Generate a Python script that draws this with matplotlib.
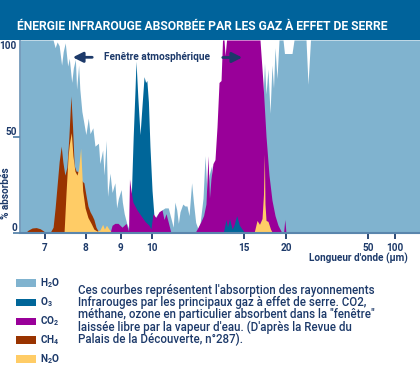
import numpy as np
import matplotlib
matplotlib.use('Agg')
import matplotlib.pyplot as plt
from matplotlib.patches import Rectangle
import matplotlib.transforms as mtransforms

# ---------------- data (wavelength in µm, absorption in %) ----------------
h2o_wl = [6.38, 7.20, 7.25, 7.30, 7.35, 7.41, 7.45, 7.50, 7.56, 7.60, 7.66, 7.70, 7.75,
          7.78, 7.83, 7.86, 7.91, 7.96, 8.01, 8.08, 8.13, 8.21, 8.27, 8.37, 8.41, 8.49,
          8.53, 8.59, 8.63, 8.70, 8.76, 8.84, 8.89, 8.94, 9.02, 9.06, 9.12, 9.20, 9.25,
          9.34, 9.56, 9.79, 10.03, 10.19, 10.35, 10.57, 10.73, 10.91, 11.10, 11.18, 11.27,
          11.37, 11.46, 11.55, 11.70, 11.82, 11.93, 12.04, 12.18, 12.28, 12.40, 12.53,
          12.64, 12.80, 12.91, 13.02, 13.13, 13.27, 13.34, 13.45, 13.61, 16.71, 16.94,
          17.29, 17.47, 17.65, 17.88, 18.12, 18.35, 18.53, 18.71, 18.94, 19.18, 19.65,
          19.82, 22.20, 22.93, 27.32, 28.05, 28.96, 200]
h2o_abs = [100, 100, 96, 99, 97, 87, 94, 98.5, 86.5, 90.5, 78, 85.5, 90,
           74.5, 87, 74.5, 63, 57, 51, 59.5, 51.5, 54.5, 45, 46.5, 36, 43,
           30, 48, 19, 31, 21, 26, 13, 18, 22.5, 16, 10, 5, 3,
           2, 2, 3, 4, 8, 10, 12, 13, 13, 6, 3, 16,
           12, 5, 11, 15, 14, 14, 9, 26, 16, 5.5, 2,
           5, 18, 40, 20, 30, 35, 20, 28, 30, 30, 60,
           70, 88, 72, 85, 62, 87, 75, 96, 80, 100, 100,
           93, 93, 100, 100, 77, 100, 100]

o3_wl = [9.31, 9.36, 9.41, 9.47, 9.50, 9.56, 9.63, 9.69, 9.76, 9.81, 9.85, 9.90, 9.95,
         10.03, 10.14, 10.30, 13.90, 14.05, 14.13, 14.24, 14.38, 14.48, 14.63, 14.78,
         14.92, 15.18]
o3_abs = [0, 25, 50, 75, 89, 70, 51, 65, 81, 78, 79, 68, 45,
          22, 8, 0, 0, 7, 3, 7.5, 2, 4, 9, 4,
          2, 0]

co2_wl = [8.70, 8.76, 8.84, 8.93, 9.05, 9.18, 9.26, 9.29, 9.34, 9.40, 9.53, 9.66, 9.79,
          9.92, 9.98, 10.08, 10.24, 10.41, 10.57, 10.68, 10.79, 10.90, 11.06, 12.36,
          12.53, 12.69, 12.83, 12.96, 13.07, 13.15, 13.23, 13.34, 13.45, 13.56, 13.67,
          13.78, 13.86, 13.94, 14.00, 14.08, 16.94, 17.29, 17.65, 18.00, 18.35, 18.71,
          19.06, 19.53, 19.71, 19.86, 20.00]
co2_abs = [0, 4, 5, 5, 3, 5, 1, 28, 22, 16, 12, 9, 6,
           4, 2, 10, 8, 11, 12, 7, 10, 6, 0, 0,
           3, 6, 9, 15, 40, 18, 28, 36, 38, 55, 78,
           79, 100, 100, 92, 100, 100, 78, 50, 30, 17, 9,
           4, 0, 0, 7, 0]

ch4_wl = [6.50, 6.58, 6.68, 6.78, 6.88, 6.98, 7.02, 7.12, 7.20, 7.25, 7.30, 7.35, 7.40,
          7.44, 7.49, 7.54, 7.59, 7.64, 7.68, 7.72, 7.77, 7.81, 7.86, 7.91, 7.96, 8.01,
          8.07, 8.13, 8.19, 8.24, 8.30, 8.39]
ch4_abs = [0, 1.5, 2.6, 2.8, 2.2, 0.8, 0, 0, 3, 13, 25, 37, 45,
           37, 30, 34, 50, 71, 55, 35, 32, 32, 29, 27, 26, 20,
           14, 11, 9, 7, 3, 0]

n2o_wl = [7.47, 7.52, 7.57, 7.60, 7.65, 7.69, 7.74, 7.79, 7.83, 7.88, 7.93, 7.99, 8.07,
          8.16, 8.24, 8.33, 8.41, 8.49, 8.54, 8.60, 8.67, 8.76,
          16.24, 16.59, 16.88, 17.18, 17.35, 17.45, 17.53, 17.65, 17.88, 18.18, 18.41]
n2o_abs = [0, 21, 40, 46, 52, 40, 32, 30, 33, 44, 22, 13, 8,
           5, 2, 1, 1.5, 4.5, 2, 4, 2, 0,
           0, 6.5, 4.5, 7.5, 20, 41, 15, 6.5, 6, 2, 0]

tick_wl = [7, 8, 9, 10, 15, 20, 50, 100]
tick_labels = ['7', '8', '9', '10', '15', '20', '50', '100']
gas_labels = [r'H$_2$O', r'O$_3$', r'CO$_2$', r'CH$_4$', r'N$_2$O']

title = "ÉNERGIE INFRAROUGE ABSORBÉE PAR LES GAZ À EFFET DE SERRE"
note_lines = ["Ces courbes représentent l'absorption des rayonnements",
              "Infrarouges par les principaux gaz à effet de serre. CO2,",
              "méthane, ozone en particulier absorbent dans la \"fenêtre\"",
              "laissée libre par la vapeur d'eau. (D'après la Revue du",
              "Palais de la Découverte, n°287)."]

# ---------------- style ----------------
C_H2O = '#80b3cf'
C_O3 = '#006699'
C_CO2 = '#990099'
C_CH4 = '#993300'
C_N2O = '#ffcc66'
BAND = '#00639b'
NAVY = '#1d3a6a'
AXC = '#5a86ad'
gas_colors = [C_H2O, C_O3, C_CO2, C_CH4, C_N2O]

plt.rcParams['font.family'] = ['Roboto', 'DejaVu Sans']
plt.rcParams['mathtext.fontset'] = 'custom'
plt.rcParams['mathtext.rm'] = 'Roboto:bold'
plt.rcParams['mathtext.it'] = 'Roboto:bold'
plt.rcParams['mathtext.bf'] = 'Roboto:bold'

W, H = 420, 380
fig = plt.figure(figsize=(W / 100, H / 100), dpi=100)
fig.patch.set_facecolor('white')

# title band
fig.patches.append(Rectangle((0, 1 - 40 / H), 1, 40 / H, transform=fig.transFigure,
                             facecolor=BAND, edgecolor='none', zorder=0))
fig.text(17 / W, 1 - 27 / H, title, color='white', fontsize=8.7, fontweight='bold',
         ha='left', va='center')

ax = fig.add_axes([20 / W, 147 / H, 400 / W, 193 / H])

# wavelength axis: piecewise scale as drawn in the original figure
scale_wl = [6, 7, 8, 9, 10, 15, 20, 50, 100, 200]
scale_pos = [5, 45, 85.5, 120.5, 151.5, 243.5, 286, 368, 395, 420]


def fwd(x):
    return np.interp(x, scale_wl, scale_pos)


def inv(p):
    return np.interp(p, scale_pos, scale_wl)


ax.set_xscale('function', functions=(fwd, inv))
ax.set_xlim(inv(20), 200)
ax.set_ylim(0, 100)

ax.fill_between(h2o_wl, h2o_abs, color=C_H2O, lw=0, zorder=1)
ax.fill_between(o3_wl, o3_abs, color=C_O3, lw=0, zorder=2)
ax.fill_between(co2_wl, co2_abs, color=C_CO2, lw=0, zorder=3)
ax.fill_between(ch4_wl, ch4_abs, color=C_CH4, lw=0, zorder=4)
ax.fill_between(n2o_wl, n2o_abs, color=C_N2O, lw=0, zorder=5)
o3x = np.array(o3_wl)
ax.fill_between(o3_wl, o3_abs, where=o3x > 12, color=C_O3, lw=0, zorder=6)

for s in ['top', 'right']:
    ax.spines[s].set_visible(False)
ax.spines['left'].set_color(AXC)
ax.spines['left'].set_linewidth(1.1)
ax.spines['bottom'].set_color(AXC)
ax.spines['bottom'].set_linewidth(1.5)
ax.spines['left'].set_zorder(10)
ax.spines['bottom'].set_zorder(10)

ax.set_xticks(tick_wl)
ax.set_xticklabels(tick_labels)
ax.xaxis.set_minor_locator(matplotlib.ticker.NullLocator())
ax.tick_params(axis='x', length=4.5, width=1.3, color=NAVY, pad=2.5,
               labelsize=7.2, labelcolor=NAVY)
for lab in ax.get_xticklabels():
    lab.set_fontweight('bold')
for t, lbl in zip(ax.xaxis.get_major_ticks(), tick_labels):
    if lbl in ('20', '100'):
        t.tick1line.set_color('#8aa6c4')

ax.set_yticks([0, 50])
ax.set_yticklabels([])
ax.tick_params(axis='y', length=5, width=1.3, color=AXC, pad=1)

ytr = mtransforms.blended_transform_factory(ax.transAxes, ax.transData)
for val, txt, off in [(0, '0', 2.7), (50, '50', 52.3), (100, '100', 96.9)]:
    ax.text(-0.008, off, txt, transform=ytr, ha='right', va='center',
            fontsize=7.2, fontweight='bold', color=NAVY, clip_on=False)

fig.text(6 / W, 1 - 193 / H, '% absorbés', rotation=90, ha='center', va='center',
         fontsize=7.2, fontweight='bold', color=NAVY)
fig.text(408 / W, 1 - 258.5 / H, "Longueur d'onde (µm)", ha='right', va='center',
         fontsize=7.2, fontweight='bold', color=NAVY)

# atmospheric window annotation
fig.text(104 / W, 1 - 57 / H, 'Fenêtre atmosphérique', ha='left', va='center',
         fontsize=7.3, fontweight='bold', color=NAVY)
arrow_kw = dict(arrowstyle='-|>,head_length=0.6,head_width=0.3', color=NAVY, lw=2)
fig.add_artist(matplotlib.patches.FancyArrowPatch((95, H - 57.3), (70, H - 57.3),
               transform=None, mutation_scale=10, **arrow_kw))
fig.add_artist(matplotlib.patches.FancyArrowPatch((220, H - 57.5), (245, H - 57.5),
               transform=None, mutation_scale=10, **arrow_kw))

# legend
leg_y = [283, 302.5, 321.3, 339.8, 358.8]
for yc, col, lbl in zip(leg_y, gas_colors, gas_labels):
    fig.patches.append(Rectangle((16 / W, 1 - (yc + 3.8) / H), 20 / W, 7.6 / H,
                                 transform=fig.transFigure, facecolor=col,
                                 edgecolor='none'))
    fig.text(40.5 / W, 1 - yc / H, lbl, ha='left', va='center', fontsize=7.2,
             fontweight='bold', color=NAVY)

for i, line in enumerate(note_lines):
    fig.text(78 / W, 1 - (290.7 + 12.1 * i) / H, line, ha='left', va='center',
             fontsize=8.3, fontweight='medium', color=NAVY)

fig.savefig('out.png', dpi=100, facecolor='white')
